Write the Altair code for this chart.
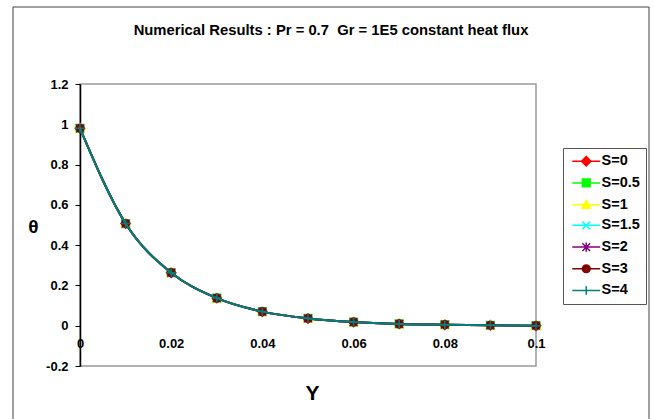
import altair as alt
import pandas as pd

# ---- data ----
y_pos = [0.0, 0.01, 0.02, 0.03, 0.04, 0.05, 0.06, 0.07, 0.08, 0.09, 0.1]
theta_s0 = [0.98, 0.507, 0.263, 0.137, 0.070, 0.036, 0.018, 0.009, 0.005, 0.002, 0.0]
theta_s05 = [0.98, 0.507, 0.263, 0.137, 0.070, 0.036, 0.018, 0.009, 0.005, 0.002, 0.0]
theta_s1 = [0.98, 0.507, 0.263, 0.137, 0.070, 0.036, 0.018, 0.009, 0.005, 0.002, 0.0]
theta_s15 = [0.98, 0.507, 0.263, 0.137, 0.070, 0.036, 0.018, 0.009, 0.005, 0.002, 0.0]
theta_s2 = [0.98, 0.507, 0.263, 0.137, 0.070, 0.036, 0.018, 0.009, 0.005, 0.002, 0.0]
theta_s3 = [0.98, 0.507, 0.263, 0.137, 0.070, 0.036, 0.018, 0.009, 0.005, 0.002, 0.0]
theta_s4 = [0.98, 0.507, 0.263, 0.137, 0.070, 0.036, 0.018, 0.009, 0.005, 0.002, 0.0]

series_labels = ["S=0", "S=0.5", "S=1", "S=1.5", "S=2", "S=3", "S=4"]
series_values = [theta_s0, theta_s05, theta_s1, theta_s15, theta_s2, theta_s3, theta_s4]
series_colors = ["#FF0000", "#00FF00", "#FFFF00", "#00FFFF", "#800080", "#800000", "#008080"]
marker_paths = [
    "M0,-1.2L1.2,0L0,1.2L-1.2,0Z",                 # diamond
    "M-1,-1H1V1H-1Z",                              # square
    "M0,-1.1L1.1,0.9H-1.1Z",                       # triangle
    "M-1,-1L1,1M1,-1L-1,1",                        # x
    "M-1,-1L1,1M1,-1L-1,1M0,-1.2L0,1.2",           # asterisk
    "M1,0A1,1,0,1,1,-1,0A1,1,0,1,1,1,0Z",          # circle
    "M-1.1,0H1.1M0,-1.1V1.1",                      # plus
]
legend_paths = ["M-3.6,0H3.6" + p for p in marker_paths]

x_ticks = [0, 0.02, 0.04, 0.06, 0.08, 0.1]
y_ticks = [-0.2, 0, 0.2, 0.4, 0.6, 0.8, 1.0, 1.2]
chart_title = "Numerical Results : Pr = 0.7\u00a0\u00a0Gr = 1E5 constant heat flux"

rows = []
for lab, vals in zip(series_labels, series_values):
    for xv, tv in zip(y_pos, vals):
        rows.append({"series": lab, "Y": xv, "theta": tv})
df = pd.DataFrame(rows)

FONT = "Liberation Sans"

x_enc = alt.X(
    "Y:Q",
    scale=alt.Scale(domain=[0, 0.1], nice=False, zero=False),
    axis=alt.Axis(
        values=x_ticks, format="~g", domain=False, ticks=False, tickSize=0,
        grid=False, offset=-40, labelBaseline="middle", labelPadding=17,
        labelFont=FONT, labelFontSize=13, labelFontWeight="bold", labelColor="black",
        labelFlush=False, labelOverlap=False,
        title="Y", titleFont=FONT, titleFontSize=21, titleFontWeight="bold",
        titleColor="black", titleX=232, titleY=67, titleBaseline="middle",
    ),
)
y_enc = alt.Y(
    "theta:Q",
    scale=alt.Scale(domain=[-0.2, 1.2], nice=False, zero=False),
    axis=alt.Axis(
        values=y_ticks, grid=False, domainColor="black", domainWidth=1.5,
        tickColor="black", tickSize=5, tickWidth=1, labelPadding=7,
        labelExpr="replace(format(datum.value, '.1~f'), '\u2212', '-')",
        labelFont=FONT, labelFontSize=13, labelFontWeight="bold", labelColor="black",
        labelOverlap=False,
        title="θ", titleFont=FONT, titleFontSize=19, titleFontWeight="bold",
        titleColor="black", titleAngle=0, titleX=-47, titleY=142,
        titleAlign="center", titleBaseline="middle",
    ),
)

layers = []
for lab, col, path in zip(series_labels, series_colors, marker_paths):
    base = alt.Chart(df).transform_filter(alt.datum.series == lab)
    layers.append(
        base.mark_line(interpolate="monotone", color=col, strokeWidth=2).encode(x=x_enc, y=y_enc)
    )
    layers.append(
        base.mark_point(shape=path, size=60, filled=True, fill=col, stroke=col,
                        strokeWidth=1.5, opacity=1).encode(x=x_enc, y=y_enc)
    )

leg = alt.Legend(
    orient="none", legendX=483, legendY=64, title=None,
    strokeColor="#555555", fillColor="white", padding=6,
    symbolOffset=10, labelOffset=8, rowPadding=5.7,
    symbolSize=60, symbolStrokeWidth=1.5,
    labelFont=FONT, labelFontSize=14.5, labelFontWeight="bold", labelColor="black",
)
legend_layer = (
    alt.Chart(df)
    .transform_filter("false")
    .mark_point(filled=True, size=60, strokeWidth=1.5, opacity=1)
    .encode(
        fill=alt.Fill("series:N", scale=alt.Scale(domain=series_labels, range=series_colors), legend=leg),
        stroke=alt.Stroke("series:N", scale=alt.Scale(domain=series_labels, range=series_colors), legend=leg),
        shape=alt.Shape("series:N", scale=alt.Scale(domain=series_labels, range=legend_paths), legend=leg),
    )
)

one = pd.DataFrame({"k": [0]})
frame_col = "#404040"
frame = [
    alt.Chart(one).mark_rule(color=frame_col, strokeWidth=1).encode(
        x=alt.value(-67), y=alt.value(-77), y2=alt.value(345)),
    alt.Chart(one).mark_rule(color=frame_col, strokeWidth=1).encode(
        x=alt.value(-67), x2=alt.value(569), y=alt.value(-77)),
    alt.Chart(one).mark_rule(color=frame_col, strokeWidth=1).encode(
        x=alt.value(569), y=alt.value(-77), y2=alt.value(345)),
]
title_layer = alt.Chart(one).mark_text(
    text=chart_title, font=FONT, fontSize=14.8, fontWeight="bold", color="black",
    align="center", baseline="middle",
).encode(x=alt.value(251), y=alt.value(-53))

chart = (
    alt.layer(*layers, legend_layer, *frame, title_layer)
    .properties(
        width=456, height=282,
        autosize=alt.AutoSizeParams(type="none"),
        padding={"left": 80, "top": 84, "right": 119, "bottom": 53},
        background="white",
    )
    .configure_view(stroke="#999999", strokeWidth=1.5)
)

chart.save("out.html", embed_options={"renderer": "svg", "actions": False})
